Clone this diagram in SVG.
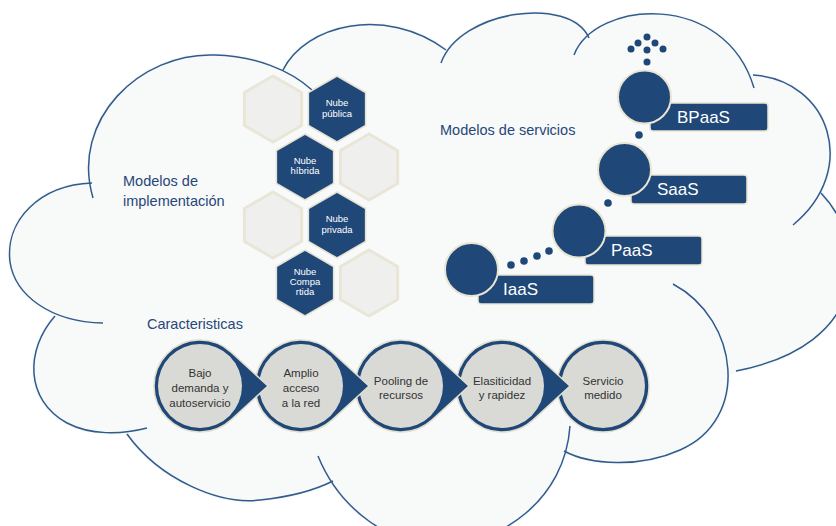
<svg xmlns="http://www.w3.org/2000/svg" width="836" height="526" viewBox="0 0 836 526">
<style>
.cf{fill:#f8f9f9;stroke:#f8f9f9;stroke-width:4;stroke-linejoin:round}
.cl{fill:none;stroke:#2f5b8d;stroke-width:1.5}
.hl{fill:#efefee;stroke:#e9e6d8;stroke-width:3}
.hb{fill:#1f4778;stroke:#e6e2d2;stroke-width:1.5}
.ht{font-family:"Liberation Sans",Arial,sans-serif;font-size:9.5px;fill:#fff;text-anchor:middle}
.ti{font-family:"Liberation Sans",Arial,sans-serif;font-size:14.5px;fill:#264878}
.sc{fill:#1f4778;stroke:#e9e5d3;stroke-width:2}
.sr{fill:#1f4778;stroke:#e9e5d3;stroke-width:1.5}
.st{font-family:"Liberation Sans",Arial,sans-serif;font-size:17px;fill:#fff}
.dot{fill:#1f4778}
.td{fill:#1f4778;stroke:#e2dfcf;stroke-width:1.5}
.ci{fill:#d9dad6}
.ct{font-family:"Liberation Sans",Arial,sans-serif;font-size:11.5px;fill:#333;text-anchor:middle}
</style>
<defs>
<path id="hx" d="M0,-33 L28.6,-16.5 L28.6,16.5 L0,33 L-28.6,16.5 L-28.6,-16.5Z"/>
</defs>
<rect width="836" height="526" fill="#fff"/>
<g id="cloud">
<g>
<polygon class="cf" points="93,198 312,90 283,70 446,50 441,63 589,38 574,55 754,88 753,75 793,225 821,193 736,371 564,451 318,456 333,481 127,434 147,428 55,316 92,183"/>
<path class="cf" d="M93,198 C70,120 140,52 215,55 C255,56 290,70 312,90Z"/>
<path class="cf" d="M283,70 C305,25 385,5 446,50Z"/>
<path class="cf" d="M441,63 C460,10 570,-5 589,38Z"/>
<path class="cf" d="M574,55 C595,0 725,-10 754,88Z"/>
<path class="cf" d="M753,75 C830,80 860,170 793,225Z"/>
<path class="cf" d="M821,193 C870,245 870,345 736,371Z"/>
<path class="cf" d="M673,284 C740,320 750,420 680,450 C640,468 590,465 564,451Z"/>
<path class="cf" d="M570,426 C565,500 500,545 440,545 C390,545 340,510 318,456Z"/>
<path class="cf" d="M127,434 C160,480 220,505 260,500 C290,497 315,490 333,481Z"/>
<path class="cf" d="M55,316 C25,350 25,400 67,423 C90,435 120,435 147,428Z"/>
<path class="cf" d="M92,183 C40,185 5,220 10,262 C15,295 50,322 103,323Z"/>
</g>
<g>
<path class="cl" d="M93,198 C70,120 140,52 215,55 C255,56 290,70 312,90"/>
<path class="cl" d="M283,70 C305,25 385,5 446,50"/>
<path class="cl" d="M441,63 C460,10 570,-5 589,38"/>
<path class="cl" d="M574,55 C595,0 725,-10 754,88"/>
<path class="cl" d="M753,75 C830,80 860,170 793,225"/>
<path class="cl" d="M821,193 C870,245 870,345 736,371"/>
<path class="cl" d="M673,284 C740,320 750,420 680,450 C640,468 590,465 564,451"/>
<path class="cl" d="M570,426 C565,500 500,545 440,545 C390,545 340,510 318,456"/>
<path class="cl" d="M127,434 C160,480 220,505 260,500 C290,497 315,490 333,481"/>
<path class="cl" d="M55,316 C25,350 25,400 67,423 C90,435 120,435 147,428"/>
<path class="cl" d="M92,183 C40,185 5,220 10,262 C15,295 50,322 103,323"/>
</g>
</g>
<g id="titles">
<text class="ti" x="123" y="186">Modelos de</text>
<text class="ti" x="123" y="206">implementación</text>
<text class="ti" x="440" y="135">Modelos de servicios</text>
<text class="ti" x="147" y="329">Caracteristicas</text>
</g>
<g id="hexes">
<use href="#hx" class="hl" x="273" y="109"/>
<use href="#hx" class="hl" x="369" y="167"/>
<use href="#hx" class="hl" x="273" y="225"/>
<use href="#hx" class="hl" x="369" y="283"/>
<g id="nube-publica"><use href="#hx" class="hb" x="337" y="109"/><text class="ht" x="337" y="106">Nube</text><text class="ht" x="337" y="117">pública</text></g>
<g id="nube-hibrida"><use href="#hx" class="hb" x="305" y="167"/><text class="ht" x="305" y="163.5">Nube</text><text class="ht" x="305" y="174">híbrida</text></g>
<g id="nube-privada"><use href="#hx" class="hb" x="337" y="225"/><text class="ht" x="337" y="221.5">Nube</text><text class="ht" x="337" y="232.5">privada</text></g>
<g id="nube-compartida"><use href="#hx" class="hb" x="305" y="283"/><text class="ht" x="305" y="275">Nube</text><text class="ht" x="305" y="285">Compa</text><text class="ht" x="305" y="295">rtida</text></g>
</g>
<g id="connectors">
<circle class="dot" cx="511" cy="265" r="3.8"/>
<circle class="dot" cx="524" cy="261" r="3.8"/>
<circle class="dot" cx="537" cy="256" r="3.8"/>
<circle class="dot" cx="549" cy="251" r="3.8"/>
<circle class="dot" cx="608" cy="203" r="3.8"/>
<circle class="dot" cx="639" cy="135" r="3.8"/>
<circle class="dot" cx="647" cy="37" r="3.5"/>
<circle class="dot" cx="638" cy="43" r="3.5"/>
<circle class="dot" cx="655" cy="43" r="3.5"/>
<circle class="dot" cx="631" cy="49" r="3.5"/>
<circle class="dot" cx="647" cy="50" r="3.5"/>
<circle class="dot" cx="663" cy="49" r="3.5"/>
<circle class="dot" cx="647" cy="62" r="3.5"/>
</g>
<g id="bpaas"><rect class="sr" x="650" y="103" width="118" height="28" rx="3"/><circle class="sc" cx="644.5" cy="97" r="26.5"/><text class="st" x="677" y="123">BPaaS</text></g>
<g id="saas"><rect class="sr" x="631" y="175" width="116" height="29" rx="3"/><circle class="sc" cx="624.5" cy="169.5" r="26.5"/><text class="st" x="657" y="195">SaaS</text></g>
<g id="paas"><rect class="sr" x="585" y="236" width="117" height="29" rx="3"/><circle class="sc" cx="579" cy="231" r="26.5"/><text class="st" x="611" y="256">PaaS</text></g>
<g id="iaas"><rect class="sr" x="478" y="275" width="116" height="29" rx="3"/><circle class="sc" cx="471.5" cy="269.5" r="26.5"/><text class="st" x="503" y="295">IaaS</text></g>
<g id="servicio-medido"><circle class="td" cx="603" cy="386" r="46"/><circle class="ci" cx="603" cy="386" r="42"/><text class="ct" x="603" y="385">Servicio</text><text class="ct" x="603" y="399">medido</text></g>
<g id="elasticidad"><path class="td" d="M570,386 L533.1,352.1 A46,46 0 1 0 533.1,419.9Z"/><circle class="ci" cx="502" cy="386" r="42"/><text class="ct" x="502" y="385">Elasiticidad</text><text class="ct" x="502" y="399">y rapidez</text></g>
<g id="pooling"><path class="td" d="M469,386 L432.1,352.1 A46,46 0 1 0 432.1,419.9Z"/><circle class="ci" cx="401" cy="386" r="42"/><text class="ct" x="401" y="385">Pooling de</text><text class="ct" x="401" y="399">recursos</text></g>
<g id="amplio-acceso"><path class="td" d="M369,386 L332.1,352.1 A46,46 0 1 0 332.1,419.9Z"/><circle class="ci" cx="301" cy="386" r="42"/><text class="ct" x="301" y="377">Amplio</text><text class="ct" x="301" y="392">acceso</text><text class="ct" x="301" y="407">a la red</text></g>
<g id="bajo-demanda"><path class="td" d="M268,386 L231.1,352.1 A46,46 0 1 0 231.1,419.9Z"/><circle class="ci" cx="200" cy="386" r="42"/><text class="ct" x="200" y="377">Bajo</text><text class="ct" x="200" y="392">demanda y</text><text class="ct" x="200" y="407">autoservicio</text></g>
</svg>
